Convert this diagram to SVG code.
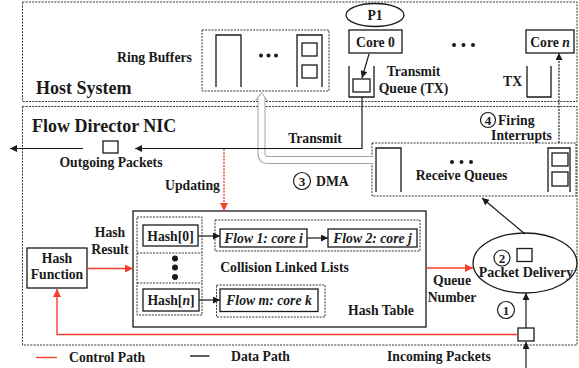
<svg xmlns="http://www.w3.org/2000/svg" width="579" height="368" viewBox="0 0 579 368">
<defs>
<marker id="ab" viewBox="0 0 10 10" refX="10" refY="5" markerWidth="9" markerHeight="7" markerUnits="userSpaceOnUse" orient="auto"><path d="M0,0 L10,5 L0,10 z" fill="#1a1a1a"/></marker>
<marker id="ar" viewBox="0 0 10 10" refX="10" refY="5" markerWidth="10" markerHeight="8" markerUnits="userSpaceOnUse" orient="auto"><path d="M0,0 L10,5 L0,10 z" fill="#f4402a"/></marker>
</defs>
<style>
text{font-family:"Liberation Serif","Times New Roman",serif;font-weight:bold;font-size:13.7px;fill:#1a1a1a}
.t{font-size:18px}
.it{font-style:italic}
.m{text-anchor:middle}
.c{font-size:13px;text-anchor:middle}
.dot{fill:none;stroke:#333;stroke-width:1;stroke-dasharray:2 1.2}
.box{fill:#fff;stroke:#1a1a1a;stroke-width:1.3}
.q{fill:none;stroke:#1a1a1a;stroke-width:1.3}
.bl{fill:none;stroke:#1a1a1a;stroke-width:1.2}
.rd{fill:none;stroke:#f4402a;stroke-width:1.4}
.ci{fill:#fff;stroke:#1a1a1a;stroke-width:1.2}
.d{fill:#1a1a1a}
</style>
<rect width="579" height="368" fill="#fff"/>

<g id="host">
<rect class="dot" x="22.5" y="2" width="554.5" height="99.5"/>
<text class="t" x="36" y="94">Host System</text>
</g>
<g id="nic">
<rect class="dot" x="22.5" y="106.5" width="554.5" height="238.5"/>
<text class="t" x="32" y="131.5">Flow Director NIC</text>
</g>

<g id="ringbuffers">
<text x="117" y="62">Ring Buffers</text>
<rect class="dot" x="202" y="30" width="127" height="61"/>
<path class="q" d="M216,87 V35 H241 V87"/>
<circle class="d" cx="261" cy="55.5" r="2"/><circle class="d" cx="268.5" cy="55.5" r="2"/><circle class="d" cx="276" cy="55.5" r="2"/>
<path class="q" d="M297,87 V35 H322 V87"/>
<rect class="box" x="302" y="43" width="15" height="13"/>
<rect class="box" x="302" y="65" width="15" height="13"/>
</g>

<g id="p1">
<ellipse class="box" cx="375" cy="15" rx="29" ry="11.5"/>
<text class="m" x="375" y="20">P1</text>
</g>
<g id="core0">
<rect class="box" x="349" y="30" width="53" height="23"/>
<text class="m" x="375.5" y="47">Core 0</text>
</g>
<g id="txq0">
<path class="q" d="M349,66 V97 H374 V66"/>
<rect class="box" x="353" y="79" width="17" height="13"/>
<text class="m" x="413.5" y="76">Transmit</text>
<text class="m" x="413.5" y="92.5">Queue (TX)</text>
</g>
<g id="coredots">
<circle class="d" cx="454" cy="45" r="2"/><circle class="d" cx="463.5" cy="45" r="2"/><circle class="d" cx="473" cy="45" r="2"/>
</g>
<g id="coren">
<rect class="box" x="526" y="30" width="48" height="23"/>
<text class="m" x="550" y="47">Core <tspan class="it">n</tspan></text>
</g>
<g id="txn">
<path class="q" d="M527,66 V97 H551 V66"/>
<text x="503" y="86">TX</text>
</g>

<g id="receivequeues">
<rect class="dot" x="372" y="143" width="204" height="53"/>
<path class="q" d="M376,192 V148 H401 V192"/>
<circle class="d" cx="452" cy="162" r="2"/><circle class="d" cx="461.5" cy="162" r="2"/><circle class="d" cx="471" cy="162" r="2"/>
<text class="m" x="461.5" y="180">Receive Queues</text>
<path class="q" d="M548,192 V148 H570 V192"/>
<rect class="box" x="552" y="153" width="16" height="13"/>
<rect class="box" x="552" y="172" width="16" height="14"/>
</g>

<g id="outgoing">
<rect class="box" x="103" y="141" width="15" height="12"/>
<text class="m" x="111" y="166.5">Outgoing Packets</text>
</g>

<g id="hashfunction">
<rect class="box" x="27" y="248" width="60" height="40"/>
<text class="m" x="57" y="263">Hash</text>
<text class="m" x="57" y="279">Function</text>
</g>

<g id="hashtable">
<rect class="box" x="133" y="211" width="293" height="116"/>
<rect class="dot" x="137" y="217" width="65" height="98"/>
<line class="dot" x1="137" y1="253" x2="202" y2="253"/>
<line class="dot" x1="137" y1="283" x2="202" y2="283"/>
<rect class="box" x="143" y="225" width="55" height="21"/>
<text class="m" x="170.5" y="240.5">Hash[0]</text>
<circle class="d" cx="175" cy="258.5" r="3"/><circle class="d" cx="175" cy="267.5" r="3"/><circle class="d" cx="175" cy="277" r="3"/>
<rect class="box" x="143" y="289" width="56" height="22"/>
<text class="m" x="171" y="304.5">Hash[<tspan class="it">n</tspan>]</text>
<rect class="dot" x="215" y="220" width="205" height="31"/>
<rect class="box" x="220" y="229" width="87" height="18"/>
<text class="m it" x="263.5" y="243">Flow 1: core i</text>
<rect class="box" x="328" y="229" width="89" height="18"/>
<text class="m it" x="372.5" y="243">Flow 2: core j</text>
<text class="m" x="284.5" y="271.5">Collision Linked Lists</text>
<rect class="dot" x="216.5" y="285" width="108.5" height="32"/>
<rect class="box" x="220" y="289" width="98" height="22.5"/>
<text class="m it" x="269" y="305">Flow m: core k</text>
<text class="m" x="381" y="315">Hash Table</text>
</g>

<g id="packetdelivery">
<ellipse class="box" cx="525" cy="263" rx="52" ry="30"/>
<circle class="ci" cx="502" cy="258" r="8"/>
<text class="c" x="502" y="262.5">2</text>
<rect class="box" x="517" y="248.5" width="15" height="13"/>
<text class="m" x="526" y="277" style="font-size:14px">Packet Delivery</text>
</g>

<g id="incoming">
<rect class="box" x="518" y="328" width="16" height="13"/>
<text x="387" y="361">Incoming Packets</text>
</g>

<g id="connectors">
<path d="M372,160 H268 Q261.5,160 261.5,153 V97" fill="none" stroke="#a5a5a5" stroke-width="8"/>
<path d="M373,160 H268 Q261.5,160 261.5,153 V96" fill="none" stroke="#fff" stroke-width="6"/>
<path d="M255.5,101 L261.5,92.5 L267.5,101" fill="none" stroke="#a5a5a5" stroke-width="1"/>
<circle class="ci" cx="302" cy="181" r="8.5"/>
<text class="c" x="302" y="185.5">3</text>
<text x="316" y="186">DMA</text>

<path class="bl" d="M362,97 V148.5 H135" marker-end="url(#ab)"/>
<text class="m" x="315" y="142.5">Transmit</text>
<line class="bl" x1="83" y1="148.5" x2="10" y2="148.5" marker-end="url(#ab)"/>
<line class="bl" x1="369" y1="54" x2="362" y2="78" marker-end="url(#ab)"/>
<line class="bl" x1="559" y1="143" x2="559" y2="53" stroke-dasharray="2 1.2" marker-end="url(#ab)"/>
<circle class="ci" cx="488" cy="120" r="7.5"/>
<text class="c" x="488" y="124.5">4</text>
<text x="498" y="125">Firing</text>
<text class="m" x="521.5" y="140">Interrupts</text>

<line class="rd" x1="224" y1="149" x2="224" y2="211" stroke-dasharray="2 1.2" marker-end="url(#ar)"/>
<text class="m" x="192.5" y="190">Updating</text>

<line class="rd" x1="87" y1="268.5" x2="133" y2="268.5" marker-end="url(#ar)"/>
<text class="m" x="110" y="237">Hash</text>
<text class="m" x="110" y="254">Result</text>

<line class="bl" x1="198" y1="236" x2="220" y2="236" marker-end="url(#ab)"/>
<line class="bl" x1="307" y1="238" x2="328" y2="238" marker-end="url(#ab)"/>
<line class="bl" x1="199" y1="300" x2="220" y2="300" marker-end="url(#ab)"/>

<line class="rd" x1="426" y1="268" x2="473" y2="268" marker-end="url(#ar)"/>
<text class="m" x="452" y="285">Queue</text>
<text class="m" x="452" y="301.5">Number</text>

<line class="bl" x1="525" y1="234" x2="482" y2="198" marker-end="url(#ab)"/>

<path class="rd" d="M518,334.5 H57 V289" marker-end="url(#ar)"/>
<line class="bl" x1="526" y1="328" x2="526" y2="293" marker-end="url(#ab)"/>
<circle class="ci" cx="506" cy="310" r="8.5"/>
<text class="c" x="506" y="314.5">1</text>
<line class="bl" x1="526" y1="368" x2="526" y2="342" marker-end="url(#ab)"/>
</g>

<g id="legend">
<line x1="36" y1="357.5" x2="57" y2="357.5" stroke="#f4402a" stroke-width="1.4"/>
<text x="69" y="362">Control Path</text>
<line x1="190" y1="356" x2="209.5" y2="356" stroke="#1a1a1a" stroke-width="1.4"/>
<text x="231" y="361">Data Path</text>
</g>
</svg>
